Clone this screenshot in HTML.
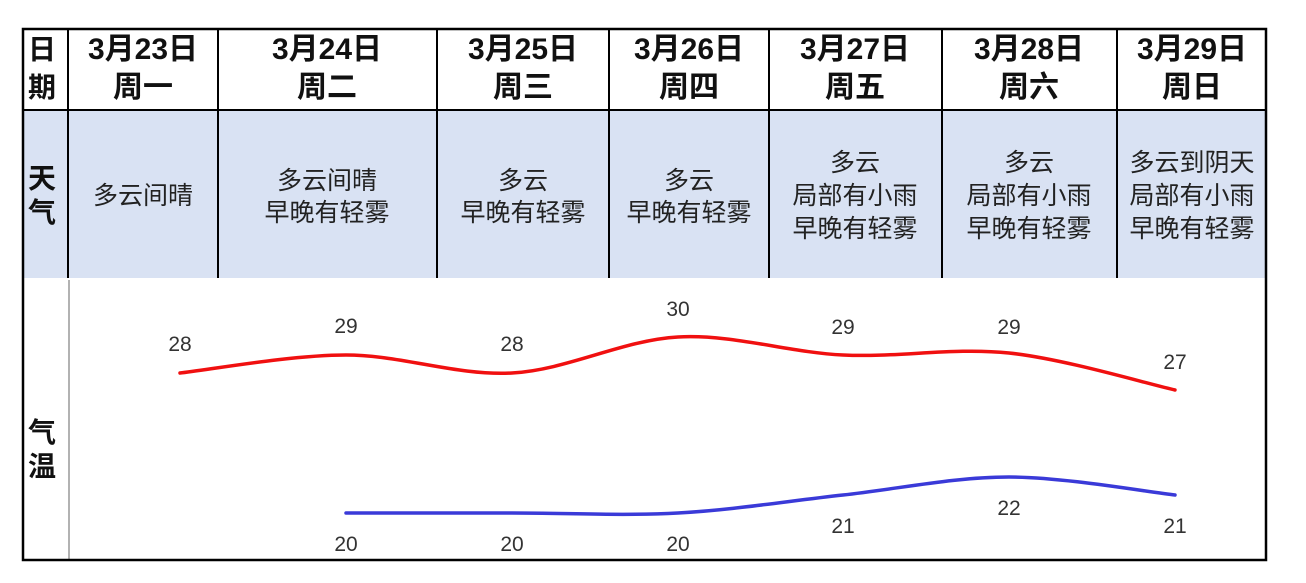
<!DOCTYPE html>
<html><head><meta charset="utf-8"><style>
body{margin:0;background:#fff;width:1306px;height:578px;overflow:hidden;font-family:"Liberation Sans","Noto Sans CJK SC",sans-serif;}
svg text{font-family:"Liberation Sans","Noto Sans CJK SC",sans-serif;}
</style></head><body>
<svg width="1306" height="578" xmlns="http://www.w3.org/2000/svg">
<rect x="0" y="0" width="1306" height="578" fill="#fff"/>
<rect x="24" y="110" width="1242" height="168" fill="#d9e2f3"/>
<g stroke="#000" stroke-width="2">
<line x1="24" y1="110" x2="1266" y2="110"/>
<line x1="68" y1="30" x2="68" y2="278"/>
<line x1="218" y1="30" x2="218" y2="278"/>
<line x1="437" y1="30" x2="437" y2="278"/>
<line x1="609" y1="30" x2="609" y2="278"/>
<line x1="769" y1="30" x2="769" y2="278"/>
<line x1="942" y1="30" x2="942" y2="278"/>
<line x1="1117" y1="30" x2="1117" y2="278"/>
</g>
<line x1="69" y1="280" x2="69" y2="560" stroke="#999" stroke-width="1.5"/>
<rect x="23" y="29" width="1243" height="531" fill="none" stroke="#000" stroke-width="2.5"/>
<g font-size="30" font-weight="bold" text-anchor="middle" fill="#111">
<text x="42" y="59" font-size="28">日</text><text x="42" y="97" font-size="28">期</text>
<text x="143" y="59">3月23日</text><text x="143" y="97">周一</text>
<text x="327" y="59">3月24日</text><text x="327" y="97">周二</text>
<text x="523" y="59">3月25日</text><text x="523" y="97">周三</text>
<text x="689" y="59">3月26日</text><text x="689" y="97">周四</text>
<text x="855" y="59">3月27日</text><text x="855" y="97">周五</text>
<text x="1029" y="59">3月28日</text><text x="1029" y="97">周六</text>
<text x="1192" y="59">3月29日</text><text x="1192" y="97">周日</text>
</g>
<g font-size="28" text-anchor="middle" fill="#111" font-weight="bold">
<text x="42" y="188">天</text><text x="42" y="222">气</text>
<text x="42" y="442">气</text><text x="42" y="476">温</text>
</g>
<g font-size="25" text-anchor="middle" fill="#222">
<text x="143" y="204">多云间晴</text>
<text x="327" y="189">多云间晴</text><text x="327" y="221">早晚有轻雾</text>
<text x="523" y="189">多云</text><text x="523" y="221">早晚有轻雾</text>
<text x="689" y="189">多云</text><text x="689" y="221">早晚有轻雾</text>
<text x="855" y="171">多云</text><text x="855" y="204">局部有小雨</text><text x="855" y="237">早晚有轻雾</text>
<text x="1029" y="171">多云</text><text x="1029" y="204">局部有小雨</text><text x="1029" y="237">早晚有轻雾</text>
<text x="1192" y="171">多云到阴天</text><text x="1192" y="204">局部有小雨</text><text x="1192" y="237">早晚有轻雾</text>
</g>
<path id="red" fill="none" stroke="#f01010" stroke-width="3.5" stroke-linecap="round"/>
<path id="blue" fill="none" stroke="#3a3ad8" stroke-width="3.5" stroke-linecap="round"/>
<g font-size="21" text-anchor="middle" fill="#333">
<text x="180" y="351">28</text><text x="346" y="333">29</text><text x="512" y="351">28</text>
<text x="678" y="316">30</text><text x="843" y="334">29</text><text x="1009" y="334">29</text><text x="1175" y="369">27</text>
<text x="346" y="551">20</text><text x="512" y="551">20</text><text x="678" y="551">20</text>
<text x="843" y="533">21</text><text x="1009" y="515">22</text><text x="1175" y="533">21</text>
</g>
</svg>
<script>
function smooth(p){var d="M"+p[0][0]+","+p[0][1];for(var i=0;i<p.length-1;i++){var p0=p[i-1]||p[i],p1=p[i],p2=p[i+1],p3=p[i+2]||p2;var c1x=p1[0]+(p2[0]-p0[0])/6,c1y=p1[1]+(p2[1]-p0[1])/6,c2x=p2[0]-(p3[0]-p1[0])/6,c2y=p2[1]-(p3[1]-p1[1])/6;d+=" C"+c1x+","+c1y+" "+c2x+","+c2y+" "+p2[0]+","+p2[1];}return d;}
document.getElementById("red").setAttribute("d",smooth([[180,373],[346,355],[512,373],[678,337],[843,355],[1009,353],[1175,390]]));
document.getElementById("blue").setAttribute("d",smooth([[346,513],[512,513],[678,513],[843,495],[1009,477],[1175,495]]));
</script>
</body></html>
